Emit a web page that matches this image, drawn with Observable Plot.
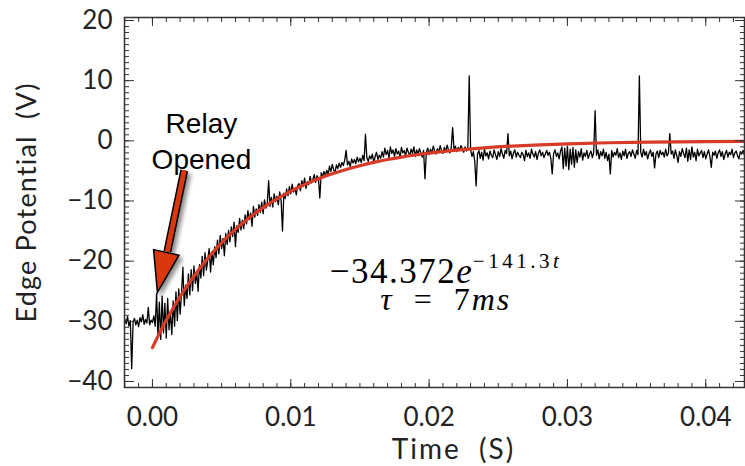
<!DOCTYPE html>
<html><head><meta charset="utf-8">
<script src="https://cdn.jsdelivr.net/npm/d3@7"></script>
<script src="https://cdn.jsdelivr.net/npm/@observablehq/plot@0.6"></script>
<style>body{margin:0;background:#fff}</style>
</head><body><div id="chart"></div>
<script>
// ---- measured signal (sample step 0.1 ms, first sample at t = -2.0 ms) ----
const startTime = -0.0020;
const sampleStep = 0.0001;
const preTrigger = [-29.6,-30.4,-29.2,-30.8,-29.9,-37.9,-30.2,-29.5,-30.6,-29.8,-30.9,-29.4,-30.1,-28.9,-30.5,-29.7,-30.3,-27.7,-30.6,-29.8];
const relayBurst = [-30.2,-29.1,-30.8,-25.4,-32.5,-26.8,-33.0,-25.8,-31.9,-27.0,-32.8,-26.2,-31.4,-28.5,-32.2,-26.6,-30.8,-25.1,-29.9,-24.6,-28.8,-25.5,-21.0,-27.4,-24.0,-26.2];
const decay = [
 -22.1,-25.6,-21.4,-24.9,-20.8,-23.7,-21.9,-25.0,-20.6,-22.8,
 -19.2,-22.4,-18.6,-21.5,-19.8,-17.9,-21.8,-18.4,-20.6,-17.6,
 -19.4,-16.5,-18.8,-15.7,-17.9,-16.2,-19.1,-15.4,-17.2,-14.9,
 -16.8,-14.3,-15.9,-13.5,-17.6,-14.1,-15.2,-12.9,-14.8,-13.2,
 -14.6,-12.3,-13.8,-11.6,-13.1,-12.0,-14.2,-10.9,-12.7,-11.3,
 -12.4,-10.6,-11.9,-10.2,-12.1,-9.8,-11.2,-10.4,-6.6,-10.9,
 -9.4,-11.0,-8.8,-10.1,-9.2,-10.6,-8.5,-9.9,-15.0,-8.7,
 -9.6,-8.0,-9.1,-7.6,-8.8,-7.2,-8.5,-7.9,-9.0,-7.4,
 -7.1,-8.3,-6.6,-7.6,-6.2,-7.9,-6.8,-7.3,-5.9,-7.0,
 -6.4,-5.6,-6.9,-5.8,-6.2,-9.5,-5.3,-6.0,-5.1,-5.8,
 -4.9,-5.6,-4.2,-5.1,-3.9,-4.8,-5.3,-4.0,-4.6,-3.7,
 -4.4,-3.6,-4.1,-3.2,-1.6,-4.0,-3.4,-4.3,-3.0,-3.7,
 -3.1,-3.8,-2.7,-3.5,-2.9,-3.6,-2.4,-3.3,1.1,-2.8,
 -3.4,-2.5,-3.0,-2.2,-3.6,-2.6,-1.9,-3.1,-2.4,-2.9,
 -1.8,-2.7,-1.2,-2.3,-1.6,-2.9,-1.0,-2.1,-1.5,-2.6,
 -1.3,-2.2,-1.7,-2.8,-1.1,-2.0,-1.6,-2.5,-1.2,-1.9,
 -2.4,-1.4,-2.1,-1.0,-2.6,-1.5,-2.2,-1.3,-2.0,-2.7,
 -1.6,-6.3,-1.9,-1.2,-2.3,-1.4,-2.0,-0.9,-1.7,-2.2,
 -1.3,-1.9,-0.8,-1.6,-2.1,-1.1,-1.8,-0.7,-1.5,-2.0,
 -1.2,2.2,-1.4,-0.9,-1.8,-1.1,-1.6,-0.8,-1.3,-1.9];
const plateau = [
 -1.0,-1.7,-1.2,10.8,-1.5,-2.6,-1.8,-3.4,-7.5,-2.2,
 -1.6,-2.9,-1.9,-3.2,-1.4,-2.5,-2.0,-3.0,-1.7,-2.4,
 -2.8,-1.5,-2.3,-3.1,-1.8,-2.6,-1.3,-2.2,-2.9,-1.6,
 -2.1,1.2,-2.5,-1.7,-3.0,-2.0,-1.5,-2.7,-1.9,-2.4,
 -2.8,-1.9,-2.3,-3.3,-1.6,-2.6,-2.0,-2.9,-1.4,-2.2,
 -2.7,-1.8,-3.1,-2.1,-1.5,-2.5,-1.9,-2.8,-2.2,-1.6,
 -2.4,-1.9,-2.9,-5.5,-2.1,-1.5,-2.6,-2.0,-3.0,-1.7,
 -1.0,-4.6,-1.2,-4.2,-0.9,-4.8,-1.4,-3.9,-1.1,-4.4,
 -1.5,-3.6,-1.8,-2.7,-1.3,-3.2,-2.0,-2.6,-1.6,-2.9,
 -2.2,-1.7,-2.8,-1.9,5.0,-2.4,-1.5,-3.0,-1.8,-2.5,
 -1.4,-2.9,-1.9,-3.3,-2.2,-5.5,-1.6,-2.7,-1.9,-2.4,
 -1.3,-2.8,-2.0,-3.1,-1.7,-2.5,-1.4,-2.9,-2.1,-1.8,
 -2.6,-1.5,-2.2,-2.9,-1.6,-2.3,10.8,-1.9,-2.7,-1.4,
 -2.4,-1.8,-3.0,-2.1,-1.5,-2.6,-1.9,-4.5,-2.2,-1.7,
 -2.8,-1.6,-2.3,-1.9,-2.7,-1.4,-2.5,-2.0,1.2,-2.2,
 -1.7,-2.9,-1.5,-2.4,-3.6,-1.8,-2.6,-1.3,-2.1,-2.8,
 -1.2,-3.4,-1.5,-3.1,-1.0,-2.7,-1.9,-3.3,-1.4,-2.5,
 -2.0,-1.6,-2.8,-1.8,-3.0,-2.2,-1.5,-2.6,-4.4,-1.9,
 -2.4,-1.7,-2.9,-2.0,-1.5,-2.6,-1.8,-3.1,-2.2,-1.6,
 -2.7,-1.9,-2.3,-1.4,-2.8,-2.0,-1.7,-2.5,-3.0,-1.8,
 -2.2,-1.6,-2.4];

// ---- exponential fit, read at sample times ----
const fitTime  = [0,0.0005,0.001,0.0015,0.002,0.0025,0.003,0.0035,0.004,0.0045,0.005,0.0055,0.006,0.0065,0.007,0.0075,0.008,0.0085,0.009,0.0095,0.010,0.011,0.012,0.013,0.014,0.015,0.016,0.017,0.018,0.019,0.020,0.022,0.024,0.026,0.028,0.030,0.033,0.036,0.040,0.0428];
const fitValue = [-34.37,-32.03,-29.84,-27.81,-25.91,-24.14,-22.50,-20.96,-19.53,-18.20,-16.96,-15.80,-14.72,-13.72,-12.78,-11.91,-11.10,-10.34,-9.64,-8.98,-8.37,-7.26,-6.31,-5.48,-4.75,-4.13,-3.58,-3.11,-2.70,-2.35,-2.04,-1.54,-1.16,-0.87,-0.66,-0.50,-0.32,-0.21,-0.12,-0.08];

// ---- ticks & titles ----
const xMajorTicks = [0, 0.01, 0.02, 0.03, 0.04];
const xMinorTicks = d3.range(-2, 43).map(i => i / 1000);
const yMajorTicks = [-40, -30, -20, -10, 0, 10, 20];
const yMinorTicks = d3.range(-41, 21);
const xTitle = "Time\u00a0\u00a0(S)";
const yTitle = "Edge Potential\u00a0\u00a0(V)";

// ---- annotations (data units) ----
const relayLabel = [{t: 0.00354, v: -4.65, text: "Relay\nOpened"}];
const arrowShaft = [{t1: 0.00230, v1: -4.9, t2: 0.00108, v2: -18.4}];
const arrowTip = [{t: 0.00036, v: -25.2}];
const equationLine1 = [{t: 0.0211, v: -23.7, text: "−34.372e−141.3t"}];
const equationLine2 = [{t: 0.0212, v: -28.2, text: "τ = 7ms"}];

const signalData = [...preTrigger, ...relayBurst, ...decay, ...plateau]
  .map((v, i) => ({t: +(startTime + i * sampleStep).toFixed(4), v}));
const fitData = fitTime.map((t, i) => ({t, v: fitValue[i]}));

const arrowHead = {draw(ctx) { ctx.moveTo(0, 0); ctx.lineTo(-13, 41); ctx.lineTo(13, 41); ctx.closePath(); }};
const arrowColor = "#d9380f";
const tickColor = "#333";
const serif = "'Liberation Serif', 'Times New Roman', serif";
const none = () => "";

const svg = Plot.plot({
  width: 745, height: 466,
  marginLeft: 124, marginTop: 17, marginBottom: 79, marginRight: 1,
  x: {domain: [-0.00202, 0.0428]},
  y: {domain: [-41, 20.5]},
  style: {fontFamily: "Lato, sans-serif", fontSize: "26px", color: "#222", background: "#fff"},
  marks: [
    Plot.line(signalData, {x: "t", y: "v", stroke: "#000", strokeWidth: 1.3, clip: true}),
    Plot.line(fitData, {x: "t", y: "v", stroke: "#d83a28", strokeWidth: 3.2, curve: "monotone-x", clip: true}),
    Plot.frame({stroke: tickColor, strokeWidth: 1.5}),
    Plot.axisX(xMinorTicks, {anchor: "bottom", tickSize: -4, tickFormat: none, label: null, stroke: tickColor}),
    Plot.axisX(xMinorTicks, {anchor: "top", tickSize: -4, tickFormat: none, label: null, stroke: tickColor}),
    Plot.axisX(xMajorTicks, {anchor: "top", tickSize: -8, tickFormat: none, label: null, stroke: tickColor}),
    Plot.axisX(xMajorTicks, {anchor: "bottom", tickSize: -8, tickPadding: 28, tickFormat: d3.format(".2f"), stroke: tickColor, label: null}),
    Plot.axisY(yMinorTicks, {anchor: "left", tickSize: -5, tickFormat: none, label: null, stroke: tickColor}),
    Plot.axisY(yMinorTicks, {anchor: "right", tickSize: -5, tickFormat: none, label: null, stroke: tickColor}),
    Plot.axisY(yMajorTicks, {anchor: "right", tickSize: -10, tickFormat: none, label: null, stroke: tickColor}),
    Plot.axisY(yMajorTicks, {anchor: "left", tickSize: -10, tickPadding: 22, tickFormat: d => d < 0 ? "−" + Math.abs(d) : String(d), stroke: tickColor, label: null}),
    Plot.text([xTitle], {text: d => d, frameAnchor: "bottom", dx: 19, dy: 71, lineAnchor: "bottom", textAnchor: "middle", fontSize: 28, fill: "#222", ariaDescription: "xtitle"}),
    Plot.text([yTitle], {text: d => d, frameAnchor: "left", dx: -97, rotate: -90, lineAnchor: "middle", textAnchor: "middle", fontSize: 27, fill: "#222", ariaDescription: "ytitle"}),
    Plot.link(arrowShaft, {x1: "t1", y1: "v1", x2: "t2", y2: "v2", stroke: "#000", strokeWidth: 8, ariaDescription: "arrow"}),
    Plot.link(arrowShaft, {x1: "t1", y1: "v1", x2: "t2", y2: "v2", stroke: arrowColor, strokeWidth: 5}),
    Plot.dot(arrowTip, {x: "t", y: "v", symbol: arrowHead, rotate: 192.5, fill: arrowColor, stroke: "#000", strokeWidth: 1.5, ariaDescription: "arrowhead"}),
    Plot.text(relayLabel, {x: "t", y: "v", text: "text", fontFamily: "Liberation Sans, Arial, sans-serif", fontSize: 28, lineHeight: 1.29, lineAnchor: "bottom", fill: "#000"}),
    Plot.text(equationLine1, {x: "t", y: "v", text: "text", fontFamily: serif, fontSize: 35, lineAnchor: "bottom", fill: "#000", ariaDescription: "eq1"}),
    Plot.text(equationLine2, {x: "t", y: "v", text: "text", fontFamily: serif, fontSize: 32, lineAnchor: "bottom", fill: "#000", ariaDescription: "eq2"})
  ]
});

// rich text for the math (italic variables, superscript)
function richText(label, parts) {
  const el = svg.querySelector(`[aria-description="${label}"] text`);
  if (!el) return;
  el.textContent = "";
  for (const p of parts) {
    const ts = document.createElementNS("http://www.w3.org/2000/svg", "tspan");
    ts.textContent = p.text;
    ts.style.fontFamily = serif;
    if (p.italic) ts.style.fontStyle = "italic";
    if (p.size) ts.style.fontSize = p.size + "px";
    if (p.dy) ts.setAttribute("dy", p.dy);
    if (p.ls) ts.style.letterSpacing = p.ls + "px";
    el.appendChild(ts);
  }
}
richText("eq1", [
  {text: "−34.372", ls: 1.5},
  {text: "e", italic: true, ls: 1},
  {text: "−141.3", size: 21, dy: -15, ls: 3.5},
  {text: "t", italic: true, size: 21}
]);
richText("eq2", [
  {text: "τ", italic: true, ls: 2},
  {text: "\u00a0\u00a0=\u00a0\u00a07", ls: 2},
  {text: "ms", italic: true, ls: 2}
]);
// wider lettering on the axis titles (Century-Gothic-like spacing)
const xt = svg.querySelector('[aria-description="xtitle"]');
if (xt) xt.style.letterSpacing = "2px";
const yt = svg.querySelector('[aria-description="ytitle"]');
if (yt) yt.style.letterSpacing = "1.2px";
for (const g of svg.querySelectorAll('[aria-description="arrow"], [aria-description="arrowhead"]')) {
  g.style.filter = "drop-shadow(3px 3px 2px rgba(0,0,0,0.45))";
}
document.getElementById("chart").appendChild(svg);
</script>
</body></html>
